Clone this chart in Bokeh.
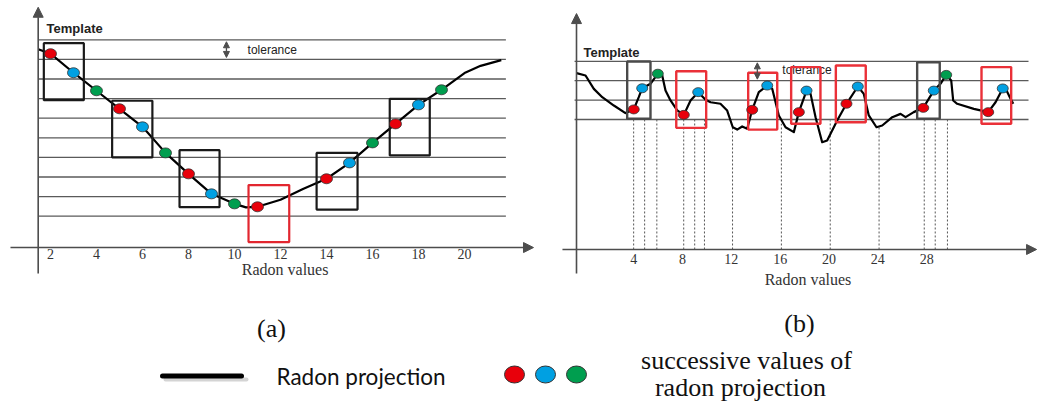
from bokeh.plotting import figure
from bokeh.layouts import column, row
from bokeh.models import Range1d, Arrow, NormalHead
from bokeh.core.properties import value
from bokeh.embed import file_html
from bokeh.resources import INLINE

# ---------------- data: panel (a) ----------------
a_curve_x = [1.47, 2, 3, 4, 5, 6, 7, 8, 9, 10, 10.5, 11, 12, 13, 14, 15, 16, 17, 18, 19, 20, 20.7, 21.6]
a_curve_y = [9.52, 9.29, 8.32, 7.40, 6.48, 5.56, 4.23, 3.16, 2.14, 1.63, 1.45, 1.48, 1.84, 2.40,
             2.91, 3.72, 4.74, 5.71, 6.68, 7.45, 8.30, 8.67, 8.96]
a_dot_x = [2, 3, 4, 5, 6, 7, 8, 9, 10, 11, 14, 15, 16, 17, 18, 19]
a_dot_y = [9.29, 8.32, 7.40, 6.48, 5.56, 4.23, 3.16, 2.14, 1.63, 1.48, 2.91, 3.72, 4.74, 5.71, 6.68, 7.45]
a_dot_c = ["r", "b", "g", "r", "b", "g", "r", "b", "g", "r", "r", "b", "g", "r", "b", "g"]
a_levels = [1, 2, 3, 4, 5, 6, 7, 8, 9, 10]
a_ticks = [2, 4, 6, 8, 10, 12, 14, 16, 18, 20]
a_box_left = [1.71, 4.68, 7.61, 10.61, 13.57, 16.75]
a_box_right = [3.45, 6.43, 9.35, 12.38, 15.35, 18.49]
a_box_bottom = [6.92, 4.00, 1.46, -0.32, 1.34, 4.10]
a_box_top = [9.83, 6.89, 4.37, 2.59, 4.23, 6.99]
a_box_kind = ["k", "k", "k", "r", "k", "k"]

# ---------------- data: panel (b) ----------------
b_curve_x = [-0.68, 0.06, 0.74, 1.43, 2.38, 3.33, 4.01, 4.42, 4.70, 5.38, 5.98, 6.34, 6.61, 7.02, 7.57,
             8.11, 8.66, 9.29, 9.89, 10.30, 11.11, 11.66, 12.12, 12.48, 12.89, 13.30, 13.71, 14.25,
             14.94, 15.35, 15.89, 16.44, 17.12, 17.53, 18.16, 18.49, 18.90, 19.44, 19.85, 20.67, 21.43,
             22.36, 22.85, 23.26, 23.89, 24.36, 25.18, 25.86, 26.27, 26.94, 27.72, 28.58, 29.13, 29.60,
             30.01, 30.17, 30.50, 31.86, 33.04, 33.64, 34.23, 34.54, 34.87, 35.09]
b_curve_y = [3.39, 3.27, 2.58, 2.15, 1.72, 1.33, 1.52, 2.15, 2.61, 2.84, 3.36, 3.27, 2.49, 1.98, 1.47,
             1.24, 1.98, 2.41, 2.02, 1.89, 1.81, 1.46, 0.60, 0.48, 0.64, 0.52, 1.50, 2.41,
             2.75, 2.58, 1.21, 0.60, 0.35, 1.38, 2.49, 2.32, 1.12, -0.17, -0.08, 0.95, 1.81,
             2.70, 2.32, 1.21, 0.60, 0.69, 1.12, 1.29, 1.12, 1.38, 1.60, 2.49, 2.84, 3.30,
             3.01, 1.98, 1.81, 1.55, 1.38, 1.89, 2.60, 2.49, 2.07, 1.81]
b_dot_x = [4.01, 4.70, 5.98, 8.11, 9.29, 13.71, 14.94, 17.53, 18.16, 21.43, 22.36, 27.72, 28.58, 29.60, 33.04, 34.23]
b_dot_y = [1.52, 2.61, 3.36, 1.24, 2.41, 1.50, 2.75, 1.38, 2.49, 1.81, 2.70, 1.60, 2.49, 3.30, 1.38, 2.60]
b_dot_c = ["r", "b", "g", "r", "b", "r", "b", "r", "b", "r", "b", "r", "b", "g", "r", "b"]
b_levels = [1, 2, 3, 4]
b_ticks = [4, 8, 12, 16, 20, 24, 28]
b_drop_x = [4.0, 4.9, 5.9, 8.1, 9.0, 9.8, 12.1, 16.1, 20.1, 24.1, 27.8, 28.7, 29.7]
b_drop_top = [1.0, 1.0, 1.0, 1.0, 1.0, 1.0, 0.6, 0.78, 0.95, 0.6, 1.0, 1.0, 1.0]
b_box_left = [3.47, 7.49, 13.38, 16.90, 20.56, 27.22, 32.49]
b_box_right = [5.38, 9.94, 15.76, 19.30, 23.01, 29.07, 34.92]
b_box_bottom = [1.04, 0.57, 0.48, 0.78, 0.86, 1.04, 0.78]
b_box_top = [3.99, 3.49, 3.41, 3.70, 3.78, 3.95, 3.70]
b_box_kind = ["k", "r", "r", "r", "r", "k", "r"]

# ---------------- styles ----------------
DOT = {"r": "#e8000b", "b": "#00a0e2", "g": "#009e4f"}
BOX_A = {"k": "#1a1a1a", "r": "#e2262f"}
BOX_B = {"k": "#4a4a4a", "r": "#ea3038"}
AXIS = "#4d4d4d"
LINE = "#5a5a5a"
SERIF = value("Liberation Serif")
SANS = value("Liberation Sans")


def base_fig(w, h, xr, yr):
    p = figure(width=w, height=h, x_range=Range1d(*xr), y_range=Range1d(*yr),
               output_backend="svg", toolbar_location=None,
               x_axis_location=None, y_axis_location=None,
               min_border=0, min_border_left=0, min_border_right=0,
               min_border_top=0, min_border_bottom=0)
    p.grid.visible = False
    p.outline_line_color = None
    p.background_fill_color = "white"
    p.border_fill_color = "white"
    return p


def head(sz=9):
    return NormalHead(size=sz, fill_color=AXIS, line_color=AXIS, line_width=1)


# ================= panel (a) =================
pa = base_fig(545, 300, (-0.1739, 23.522), (-3.301, 12.005))
pa.segment(x0=[1.48] * len(a_levels), x1=[21.8] * len(a_levels), y0=a_levels, y1=a_levels,
           line_color=LINE, line_width=1.3)
pa.add_layout(Arrow(end=head(10), x_start=1.465, y_start=-1.92, x_end=1.465, y_end=11.66,
                    line_color=AXIS, line_width=1.6))
pa.add_layout(Arrow(end=head(10), x_start=0.26, y_start=-0.60, x_end=23.0, y_end=-0.60,
                    line_color=AXIS, line_width=1.6))
pa.text(x=a_ticks, y=[-0.95] * len(a_ticks), text=[str(t) for t in a_ticks],
        text_font=SERIF, text_font_size="14px", text_align="center", text_baseline="middle",
        text_color="#333333")
pa.text(x=[12.2], y=[-1.72], text=["Radon values"], text_font=SERIF, text_font_size="16px",
        text_align="center", text_baseline="middle", text_color="#333333")
pa.text(x=[1.83], y=[10.58], text=["Template"], text_font=SANS, text_font_size="13px",
        text_font_style="bold", text_align="left", text_baseline="middle", text_color="#222222")
pa.add_layout(Arrow(start=head(6), end=head(6), x_start=9.65, y_start=9.9, x_end=9.65, y_end=9.1,
                    line_color=AXIS, line_width=1.3))
pa.text(x=[10.57], y=[9.5], text=["tolerance"], text_font=SANS, text_font_size="12px",
        text_align="left", text_baseline="middle", text_color="#222222")
pa.line(a_curve_x, a_curve_y, line_color="#000000", line_width=2.2, line_join="round")
pa.quad(left=a_box_left, right=a_box_right, bottom=a_box_bottom, top=a_box_top,
        fill_alpha=0, line_color=[BOX_A[k] for k in a_box_kind], line_width=2.2)
pa.ellipse(x=a_dot_x, y=a_dot_y, width=12, height=10, width_units="screen", height_units="screen",
           fill_color=[DOT[c] for c in a_dot_c], line_color="#333333", line_width=0.8)

# ================= panel (b) =================
pb = base_fig(493, 300, (-3.219, 37.158), (-8.330, 7.134))
pb.segment(x0=[-0.84] * len(b_levels), x1=[36.34] * len(b_levels), y0=b_levels, y1=b_levels,
           line_color=LINE, line_width=1.3)
pb.segment(x0=b_drop_x, x1=b_drop_x, y0=[-5.70] * len(b_drop_x), y1=b_drop_top,
           line_color="#555555", line_width=1, line_dash="2 2")
pb.add_layout(Arrow(end=head(10), x_start=-0.68, y_start=-6.94, x_end=-0.68, y_end=6.46,
                    line_color=AXIS, line_width=1.6))
pb.add_layout(Arrow(end=head(10), x_start=-1.83, y_start=-5.70, x_end=37.0, y_end=-5.70,
                    line_color=AXIS, line_width=1.6))
pb.text(x=b_ticks, y=[-6.18] * len(b_ticks), text=[str(t) for t in b_ticks],
        text_font=SERIF, text_font_size="14px", text_align="center", text_baseline="middle",
        text_color="#333333")
pb.text(x=[18.28], y=[-7.26], text=["Radon values"], text_font=SERIF, text_font_size="16px",
        text_align="center", text_baseline="middle", text_color="#333333")
pb.text(x=[-0.11], y=[4.45], text=["Template"], text_font=SANS, text_font_size="13px",
        text_font_style="bold", text_align="left", text_baseline="middle", text_color="#222222")
pb.add_layout(Arrow(start=head(6), end=head(6), x_start=14.13, y_start=3.92, x_end=14.13, y_end=3.08,
                    line_color=AXIS, line_width=1.3))
pb.text(x=[16.18], y=[3.53], text=["tolerance"], text_font=SANS, text_font_size="12px",
        text_align="left", text_baseline="middle", text_color="#222222")
pb.line(b_curve_x, b_curve_y, line_color="#000000", line_width=2.2, line_join="round")
pb.quad(left=b_box_left, right=b_box_right, bottom=b_box_bottom, top=b_box_top,
        fill_alpha=0, line_color=[BOX_B[k] for k in b_box_kind], line_width=2.4)
pb.ellipse(x=b_dot_x, y=b_dot_y, width=11, height=9, width_units="screen", height_units="screen",
           fill_color=[DOT[c] for c in b_dot_c], line_color="#333333", line_width=0.8)

# ================= captions and legend =================
pc = base_fig(1038, 103, (0, 1038), (403, 300))
pc.text(x=[271, 799], y=[328, 323], text=["(a)", "(b)"], text_font=SERIF, text_font_size="26px",
        text_align="center", text_baseline="middle", text_color="#111111")
pc.segment(x0=[165], x1=[246], y0=[379], y1=[379], line_color="#d4d4d4", line_width=4, line_cap="round")
pc.segment(x0=[162], x1=[241], y0=[375.5], y1=[375.5], line_color="#000000", line_width=5, line_cap="round")
pc.text(x=[276], y=[376], text=["Radon projection"], text_font=value("Lato"), text_font_size="22.5px",
        text_align="left", text_baseline="middle", text_color="#111111")
pc.ellipse(x=[514, 545, 576], y=[374, 374, 374], width=20, height=17,
           width_units="screen", height_units="screen",
           fill_color=[DOT["r"], DOT["b"], DOT["g"]], line_color="#333333", line_width=1)
pc.text(x=[746, 740], y=[360, 386.5], text=["successive values of", "radon projection"],
        text_font=SERIF, text_font_size="26px", text_align="center", text_baseline="middle",
        text_color="#111111")

layout = column(row(pa, pb, spacing=0), pc, spacing=0)
open("out.html", "w").write(file_html(layout, INLINE))
